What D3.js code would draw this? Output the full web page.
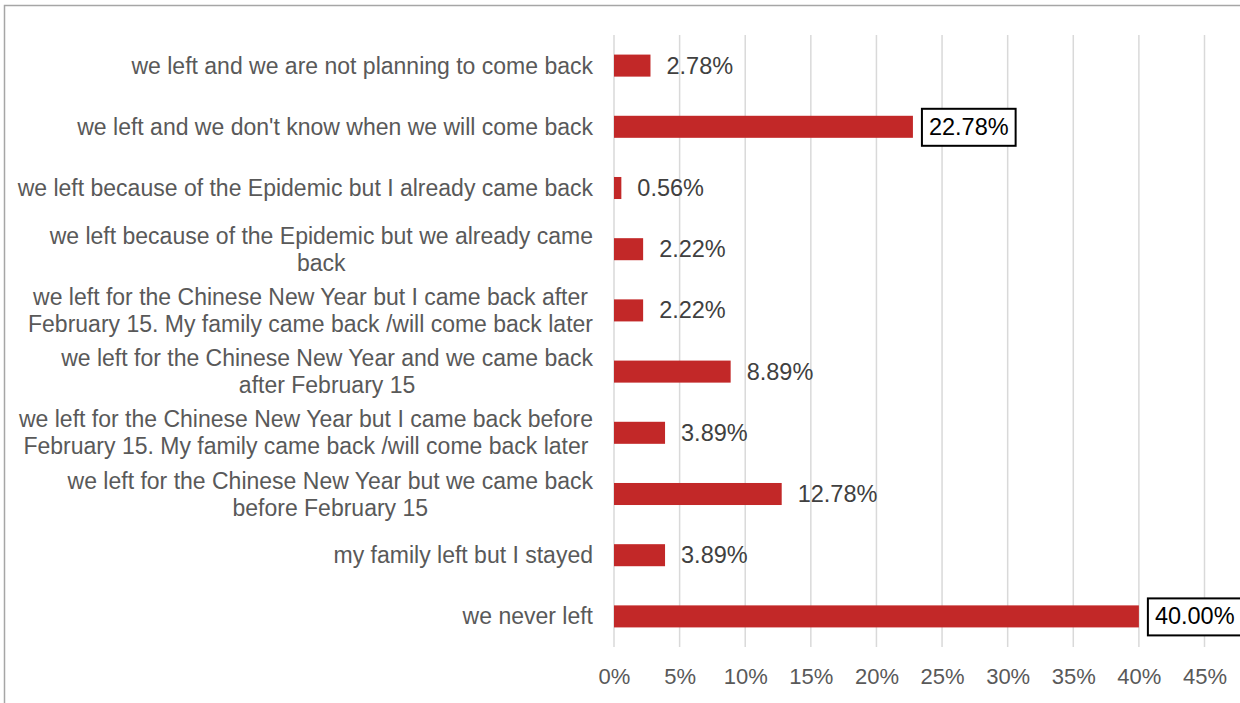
<!DOCTYPE html>
<html><head><meta charset="utf-8">
<script src="https://cdn.jsdelivr.net/npm/d3@7"></script>
<style>
html,body{margin:0;padding:0;background:#fff;}
svg{display:block;}
</style></head>
<body>
<svg id="chart" width="1240" height="703"></svg>
<script>
const categories = [
  ["we left and we are not planning to come back"],
  ["we left and we don't know when we will come back"],
  ["we left because of the Epidemic but I already came back"],
  ["we left because of the Epidemic but we already came", "back"],
  ["we left for the Chinese New Year but I came back after", "February 15. My family came back /will come back later"],
  ["we left for the Chinese New Year and we came back", "after February 15"],
  ["we left for the Chinese New Year but I came back before", "February 15. My family came back /will come back later"],
  ["we left for the Chinese New Year but we came back", "before February 15"],
  ["my family left but I stayed"],
  ["we never left"]
];
const values = [2.78, 22.78, 0.56, 2.22, 2.22, 8.89, 3.89, 12.78, 3.89, 40.00];
const boxed = [false, true, false, false, false, false, false, false, false, true];
const ticks = [0, 5, 10, 15, 20, 25, 30, 35, 40, 45];

const svg = d3.select("#chart");
const font = "'Liberation Sans', Arial, sans-serif";

// outer border
svg.append("rect").attr("x", 4.5).attr("y", 5.5).attr("width", 1250).attr("height", 720)
  .attr("fill", "none").attr("stroke", "#A6A6A6").attr("stroke-width", 1.5);

const x = d3.scaleLinear().domain([0, 45]).range([614, 1204.5]);
const y = d3.scaleBand().domain(d3.range(categories.length)).range([35, 647]).paddingInner(0.64).paddingOuter(0.32);

// gridlines
svg.append("g").selectAll("line").data(ticks).join("line")
  .attr("x1", d => x(d)).attr("x2", d => x(d))
  .attr("y1", 35).attr("y2", 647)
  .attr("stroke", "#D9D9D9").attr("stroke-width", 1.5);

// bars
svg.append("g").selectAll("rect").data(values).join("rect")
  .attr("x", x(0)).attr("y", (d, i) => y(i))
  .attr("width", d => x(d) - x(0)).attr("height", y.bandwidth())
  .attr("fill", "#C22828");

// category labels
const labelRight = 593;
const lineH = 27;
categories.forEach((lines, i) => {
  const cy = y(i) + y.bandwidth() / 2;
  const g = svg.append("g");
  const texts = lines.map((t, k) => g.append("text")
    .attr("font-family", font).attr("font-size", 23).attr("fill", "#595959")
    .attr("dominant-baseline", "central")
    .attr("y", cy + (k - (lines.length - 1) / 2) * lineH)
    .text(t));
  const widths = texts.map(t => t.node().getComputedTextLength());
  const maxW = d3.max(widths);
  const cx = labelRight - maxW / 2;
  texts.forEach(t => t.attr("x", cx).attr("text-anchor", "middle"));
});

// data labels
values.forEach((v, i) => {
  const cy = y(i) + y.bandwidth() / 2;
  const lx = x(v) + 16;
  const g = svg.append("g");
  const box = g.append("rect");
  const t = g.append("text")
    .attr("x", lx).attr("y", cy)
    .attr("font-family", font).attr("font-size", 23.5)
    .attr("fill", boxed[i] ? "#000" : "#404040")
    .attr("dominant-baseline", "central")
    .text(v.toFixed(2) + "%");
  if (boxed[i]) {
    const w = t.node().getComputedTextLength();
    box.attr("x", lx - 7).attr("y", cy - 18)
      .attr("width", w + 14).attr("height", 37)
      .attr("fill", "#fff").attr("stroke", "#000").attr("stroke-width", 2);
  } else {
    box.remove();
  }
});

// x axis tick labels
const axis = d3.axisBottom(x).tickValues(ticks).tickFormat(d => d + "%").tickSize(0).tickPadding(0);
const ag = svg.append("g").attr("transform", "translate(0,676)").call(axis);
ag.select(".domain").remove();
ag.selectAll("text").attr("font-family", font).attr("font-size", 22).attr("fill", "#595959")
  .attr("dy", null).attr("dominant-baseline", "central").attr("y", 0);
</script>
</body></html>
